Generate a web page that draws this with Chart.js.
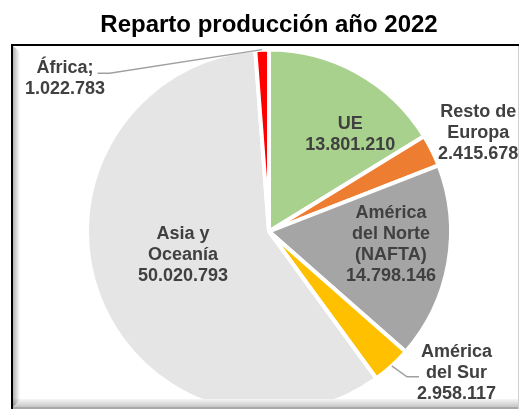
<!DOCTYPE html>
<html>
<head>
<meta charset="utf-8">
<script src="https://cdn.jsdelivr.net/npm/chart.js@4.4.1/dist/chart.umd.min.js"></script>
<style>
  html, body { margin: 0; padding: 0; background: #fff; }
  #wrap { width: 519px; height: 409px; position: relative; }
</style>
</head>
<body>
<div id="wrap"><canvas id="c" width="519" height="409"></canvas></div>
<script>
// ---- data ----
const categories = ['UE', 'Resto de Europa', 'América del Norte (NAFTA)', 'América del Sur', 'Asia y Oceanía', 'África'];
const categoryLines = [['UE'], ['Resto de', 'Europa'], ['América', 'del Norte', '(NAFTA)'], ['América', 'del Sur'], ['Asia y', 'Oceanía'], ['África;']];
const values = [13801210, 2415678, 14798146, 2958117, 50020793, 1022783];
const sliceColors = ['#A9D18E', '#ED7D31', '#A5A5A5', '#FFC000', '#E5E5E5', '#FF0000'];
const chartTitle = 'Reparto producción año 2022';

// ---- label layout: [angle shift from slice middle (deg), distance as fraction of radius] ----
const labelPlace = [[10.7, 0.695], [1.25, 1.27], [-3.7, 0.674], [-10.6, 1.29], [5.0, 0.49], [-51, 1.40]];
// leader lines: attach line index, side of text, vertical nudge
const leaders = [null, null, null, {line: 1, side: 'left', dy: 4}, null, {line: 0, side: 'right', dy: 5}];

const FONT = "'Liberation Sans', Arial, sans-serif";
const fmt = v => String(v).replace(/\B(?=(\d{3})+(?!\d))/g, '.');

const framePlugin = {
  id: 'frame',
  beforeDraw(chart) {
    const ctx = chart.ctx;
    ctx.save();
    ctx.fillStyle = '#fff';
    ctx.fillRect(0, 0, chart.width, chart.height);
    ctx.restore();
  },
  afterDatasetsDraw(chart) {
    const ctx = chart.ctx;
    const W = chart.width, H = chart.height;
    ctx.save();
    // bottom bevel
    let g = ctx.createLinearGradient(0, 399, 0, 407);
    g.addColorStop(0, '#f6f6f6');
    g.addColorStop(1, '#c6c6c6');
    ctx.fillStyle = g;
    ctx.beginPath();
    ctx.moveTo(13, 399); ctx.lineTo(W, 399); ctx.lineTo(W, 407); ctx.lineTo(13, 407); ctx.closePath();
    ctx.fill();
    ctx.fillStyle = '#a8a8a8';
    ctx.fillRect(13, 407, W - 13, 2);
    // left inner shadow
    g = ctx.createLinearGradient(13, 0, 20, 0);
    g.addColorStop(0, 'rgba(0,0,0,0.30)');
    g.addColorStop(1, 'rgba(0,0,0,0)');
    ctx.fillStyle = g;
    ctx.beginPath();
    ctx.moveTo(13, 46); ctx.lineTo(20, 52); ctx.lineTo(20, 400); ctx.lineTo(13, 407); ctx.closePath();
    ctx.fill();
    // frame lines
    ctx.fillStyle = '#000';
    ctx.fillRect(11, 44, W - 11, 2);
    ctx.fillRect(11, 44, 2, H - 44);
    ctx.fillStyle = '#d0d0d0';
    ctx.fillRect(W - 1, 46, 1, H - 46);
    ctx.restore();
  }
};

const labelPlugin = {
  id: 'sliceLabels',
  afterDatasetsDraw(chart) {
    const ctx = chart.ctx;
    const meta = chart.getDatasetMeta(0);
    const LH = 21;
    ctx.save();
    ctx.font = 'bold 18px ' + FONT;
    ctx.textAlign = 'center';
    ctx.textBaseline = 'middle';
    meta.data.forEach((arc, i) => {
      const p = arc.getProps(['x', 'y', 'startAngle', 'endAngle', 'outerRadius'], true);
      const mid = (p.startAngle + p.endAngle) / 2;
      const a = mid + labelPlace[i][0] * Math.PI / 180;
      const d = p.outerRadius * labelPlace[i][1];
      const cx = p.x + d * Math.cos(a);
      const cy = p.y + d * Math.sin(a);
      const lines = categoryLines[i].concat([fmt(chart.data.datasets[0].data[i])]);
      const n = lines.length;
      const ly = k => cy + (k - (n - 1) / 2) * LH;
      const L = leaders[i];
      if (L) {
        const w = ctx.measureText(lines[L.line]).width;
        const ex = L.side === 'left' ? cx - w / 2 - 7 : cx + w / 2 + 4;
        const ey = ly(L.line) + L.dy;
        const kx = L.side === 'left' ? ex - 12 : ex + 12;
        const sx = p.x + p.outerRadius * Math.cos(mid);
        const sy = p.y + p.outerRadius * Math.sin(mid);
        ctx.strokeStyle = '#a0a0a0';
        ctx.lineWidth = 1.5;
        ctx.beginPath();
        ctx.moveTo(sx, sy); ctx.lineTo(kx, ey); ctx.lineTo(ex, ey);
        ctx.stroke();
      }
      ctx.fillStyle = '#404040';
      lines.forEach((t, k) => ctx.fillText(t, cx, ly(k)));
    });
    ctx.restore();
  }
};

new Chart(document.getElementById('c').getContext('2d'), {
  type: 'pie',
  data: {
    labels: categories,
    datasets: [{
      data: values,
      backgroundColor: sliceColors,
      borderColor: '#ffffff',
      borderWidth: 4,
      radius: 182,
      clip: false
    }]
  },
  options: {
    responsive: false,
    animation: false,
    devicePixelRatio: 1,
    rotation: 0,
    layout: { padding: { left: 19, right: 0, top: 0, bottom: 0 } },
    plugins: {
      legend: { display: false },
      tooltip: { enabled: false },
      title: {
        display: true,
        text: chartTitle,
        color: '#000',
        font: { family: FONT, size: 24, weight: 'bold', lineHeight: 1.2 },
        padding: { top: 10.6, bottom: 14.6 }
      }
    }
  },
  plugins: [framePlugin, labelPlugin]
});
</script>
</body>
</html>
